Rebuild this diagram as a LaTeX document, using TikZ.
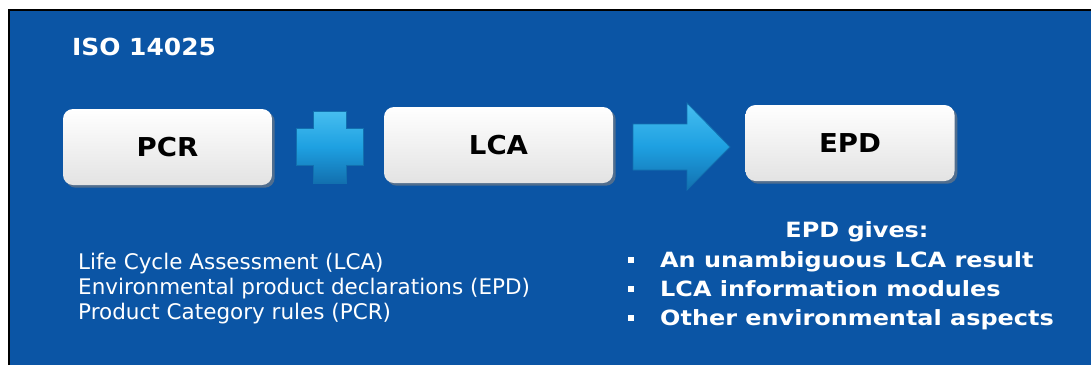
\documentclass[tikz,border=0pt]{standalone}
\usepackage{fontspec}
\setmainfont{DejaVu Sans}
\newfontfamily\headfont{DejaVu Sans}[FakeStretch=1.14]
\newfontfamily\titlefont{DejaVu Sans}[FakeStretch=1.06]
\usetikzlibrary{shadows}

\definecolor{slideblue}{RGB}{11,85,165}
\definecolor{signblue}{RGB}{30,160,225}
\definecolor{signdark}{RGB}{18,112,175}
\definecolor{signlight}{RGB}{70,190,240}

\begin{document}
\begin{tikzpicture}[x=1pt, y=-1pt,
  box/.style={rectangle, rounded corners=10pt, minimum width=209pt, minimum height=76pt, top color=white, bottom color=gray!22, drop shadow={opacity=0.6}, font=\titlefont\fontsize{26}{30}\selectfont\bfseries},
  sign/.style={top color=signlight, bottom color=signdark, middle color=signblue, draw=signdark, line width=0.8pt},
  plain/.style={text=white, inner sep=0pt, font=\fontsize{21.5}{25}\selectfont},
  head/.style={text=white, inner sep=0pt, font=\headfont\fontsize{21}{25}\selectfont\bfseries},
  dot/.style={fill=white, minimum size=6pt, inner sep=0pt}]
  % background
  \useasboundingbox (0,0) rectangle (1091,365);
  \fill[white] (0,0) rectangle (1091,365);
  \fill[slideblue] (9,10) rectangle (1091,365);
  \draw[black, line width=2pt] (9,365) -- (9,10) -- (1091,10);
  % title
  \node[head, anchor=base west, font=\titlefont\fontsize{23.5}{28}\selectfont\bfseries] (iso) at (72,55) {ISO 14025};
  % boxes
  \node[box] (pcr) at (167.5,147) {PCR};
  \node[box, minimum width=229pt] (lca) at (498.5,145) {LCA};
  \node[box] (epd) at (850,143) {EPD};
  % plus and arrow
  \draw[sign] (313,111) -- (346,111) -- (346,128) -- (363,128) -- (363,165) -- (346,165)
    -- (346,183) -- (313,183) -- (313,165) -- (296,165) -- (296,128) -- (313,128) -- cycle;
  \draw[sign] (633,124) -- (687,124) -- (687,103) -- (730,147) -- (687,190) -- (687,170) -- (633,170) -- cycle;
  % left text
  \node[plain, anchor=base west] (t1) at (78,269) {Life Cycle Assessment (LCA)};
  \node[plain, anchor=base west] (t2) at (78,294) {Environmental product declarations (EPD)};
  \node[plain, anchor=base west] (t3) at (78,319) {Product Category rules (PCR)};
  % right text
  \node[head, anchor=base] (gives) at (857,237) {EPD gives:};
  \node[dot] (b1) at (631,260) {};
  \node[dot] (b2) at (631,289) {};
  \node[dot] (b3) at (631,318) {};
  \node[head, anchor=base west] (g1) at (660,267) {An unambiguous LCA result};
  \node[head, anchor=base west] (g2) at (660,296) {LCA information modules};
  \node[head, anchor=base west] (g3) at (660,325) {Other environmental aspects};
\end{tikzpicture}
\end{document}
